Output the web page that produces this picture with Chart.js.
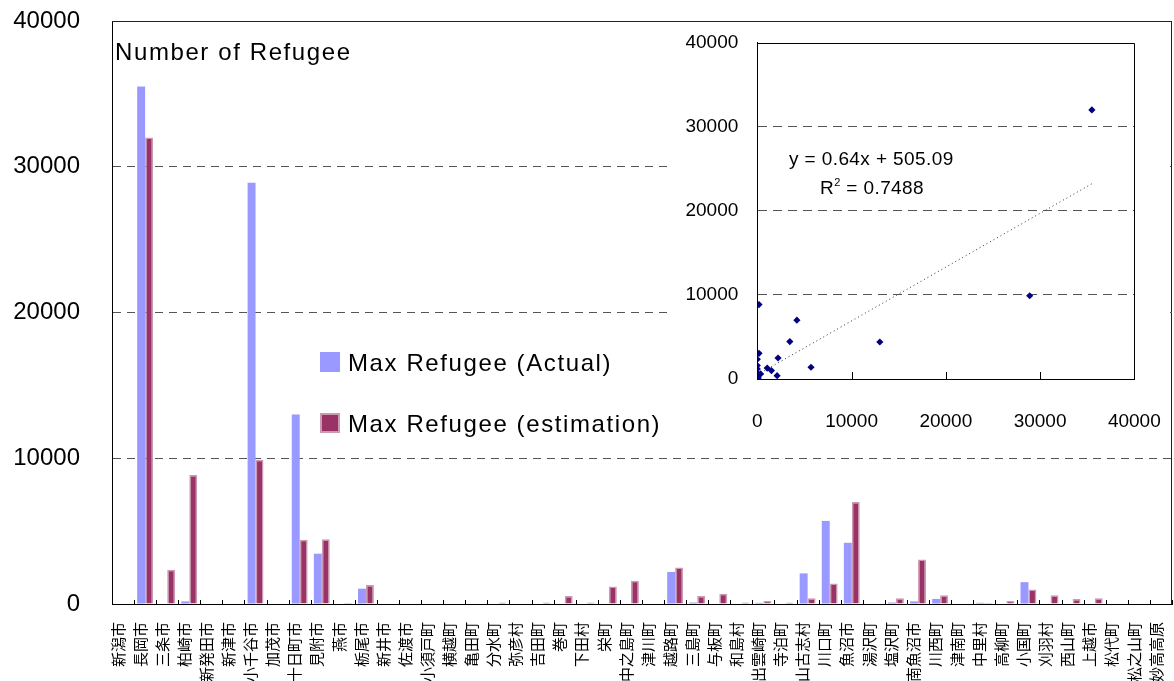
<!DOCTYPE html>
<html>
<head>
<meta charset="utf-8">
<script src="https://cdn.jsdelivr.net/npm/chart.js@4/dist/chart.umd.min.js"></script>
<style>
  html, body { margin: 0; padding: 0; background: #fff; }
  #wrap { position: relative; width: 1174px; height: 681px; overflow: hidden; }
  #main { position: absolute; left: 0; top: 0; }
  #insetBox { position: absolute; left: 673px; top: 22px; width: 497px; height: 410px; background: #fff; }
  #inset { position: absolute; left: 0; top: 0; }
  .txt { position: absolute; font-family: "Liberation Sans", Arial, sans-serif; color: #000; white-space: nowrap; }
  .big { font-size: 24px; line-height: 24px; letter-spacing: 1.6px; }
  .eq { font-size: 19px; line-height: 19px; letter-spacing: 0.4px; }
  .eq sup { font-size: 11px; vertical-align: 0; position: relative; top: -8px; }
  .sw { position: absolute; width: 20px; height: 20px; box-sizing: border-box; }
</style>
</head>
<body>
<div id="wrap">
  <canvas id="main" width="1174" height="681"></canvas>
  <div class="txt big" style="left:115px; top:40px;">Number of Refugee</div>
  <div class="sw" style="left:320px; top:352px; background:#9999FF;"></div>
  <div class="txt big" style="left:348px; top:351px;">Max Refugee (Actual)</div>
  <div class="sw" style="left:320px; top:413px; background:#993366; border:2px solid #CC99B2;"></div>
  <div class="txt big" style="left:348px; top:412px;">Max Refugee (estimation)</div>
  <div id="insetBox">
    <canvas id="inset" width="497" height="410"></canvas>
    <div class="txt eq" style="left:116px; top:127px;">y = 0.64x + 505.09</div>
    <div class="txt eq" style="left:147px; top:156px;">R<sup>2</sup> = 0.7488</div>
  </div>
</div>
<script>
const categories = ["新潟市","長岡市","三条市","柏崎市","新発田市","新津市","小千谷市","加茂市","十日町市","見附市",
  "燕市","栃尾市","新井市","佐渡市","小須戸町","横越町","亀田町","分水町","弥彦村","吉田町",
  "巻町","下田村","栄町","中之島町","津川町","越路町","三島町","与板町","和島村","出雲崎町",
  "寺泊町","山古志村","川口町","魚沼市","湯沢町","塩沢町","南魚沼市","川西町","津南町","中里村",
  "高柳町","小国町","刈羽村","西山町","上越市","松代町","松之山町","妙高高原"];
const actual = [0,35500,0,180,0,0,28900,0,13000,3450,
  0,1050,0,0,0,0,0,0,0,0,
  0,0,0,0,0,2200,100,0,0,80,
  0,2100,5700,4200,0,100,180,350,0,80,
  0,1500,0,0,0,0,0,0];
const estimation = [0,32000,2350,8850,0,0,9900,0,4400,4450,
  80,1300,0,0,0,0,0,100,0,100,
  550,100,1200,1600,0,2500,550,700,100,200,
  100,400,1400,7000,0,400,3050,600,0,80,
  200,1000,600,350,400,0,0,0];
const yTicks = [0, 10000, 20000, 30000, 40000];
const trendSlope = 0.64;
const trendIntercept = 505.09;

const LATIN = '"Liberation Sans", Arial, sans-serif';
const CJK = '"Noto Sans CJK JP", sans-serif';
const plain = v => String(v);
const noPad = s => { s.paddingTop = 0; s.paddingBottom = 0; s.paddingLeft = 0; s.paddingRight = 0; };

const mainDecor = {
  id: 'mainDecor',
  afterDraw(chart) {
    const {ctx, chartArea: a} = chart;
    const xs = chart.scales.x;
    const n = categories.length;
    const step = xs.getPixelForTick(1) - xs.getPixelForTick(0);
    ctx.save();
    ctx.strokeStyle = '#000';
    ctx.lineWidth = 1;
    ctx.beginPath();
    for (let i = 0; i <= n; i++) {
      const x = Math.round(xs.getPixelForTick(0) - step / 2 + i * step) + 0.5;
      ctx.moveTo(x, a.bottom);
      ctx.lineTo(x, a.bottom - 4);
    }
    ctx.stroke();
    ctx.strokeStyle = '#222';
    ctx.beginPath();
    ctx.moveTo(a.left, Math.round(a.top) + 0.5);
    ctx.lineTo(a.right, Math.round(a.top) + 0.5);
    ctx.moveTo(Math.round(a.right) - 0.5, a.top);
    ctx.lineTo(Math.round(a.right) - 0.5, a.bottom);
    ctx.stroke();
    ctx.restore();
  }
};

new Chart(document.getElementById('main'), {
  type: 'bar',
  data: {
    labels: categories,
    datasets: [
      { label: 'Max Refugee (Actual)', data: actual, backgroundColor: '#9999FF', borderWidth: 0,
        categoryPercentage: 0.72, barPercentage: 1.0 },
      { label: 'Max Refugee (estimation)', data: estimation, backgroundColor: '#993366',
        borderColor: '#CC99B2', borderWidth: 1.5, borderSkipped: 'bottom',
        categoryPercentage: 0.72, barPercentage: 1.0 }
    ]
  },
  options: {
    responsive: false,
    animation: false,
    layout: { padding: { top: 21, right: 2, left: 0, bottom: 0 } },
    plugins: { legend: { display: false }, tooltip: { enabled: false } },
    scales: {
      x: {
        grid: { display: false },
        border: { color: '#000', width: 1 },
        ticks: { autoSkip: false, maxRotation: 90, minRotation: 90, color: '#000', padding: 10,
          labelOffset: -5, font: { size: 15, family: CJK } },
        afterFit(s) { s.height = 77; noPad(s); }
      },
      y: {
        min: 0, max: 40000,
        afterBuildTicks(s) { s.ticks = yTicks.map(v => ({ value: v })); },
        ticks: { color: '#000', padding: 32, font: { size: 24, family: LATIN }, callback: plain },
        grid: { color: '#555', lineWidth: 1, drawTicks: false },
        border: { color: '#000', width: 1, dash: [8, 6] },
        afterFit(s) { s.width = 112; noPad(s); }
      }
    }
  },
  plugins: [mainDecor]
});

const scatterPoints = actual.map((a, i) => ({ x: a, y: estimation[i] }));
const xMin = Math.min(...actual), xMax = Math.max(...actual);
const trendPoints = [xMin, xMax].map(x => ({ x: x, y: trendSlope * x + trendIntercept }));

const insetDecor = {
  id: 'insetDecor',
  afterDraw(chart) {
    const {ctx, chartArea: a} = chart;
    const xs = chart.scales.x;
    ctx.save();
    ctx.strokeStyle = '#000';
    ctx.lineWidth = 1;
    ctx.beginPath();
    yTicks.slice(1, -1).forEach(v => {
      const x = Math.round(xs.getPixelForValue(v)) + 0.5;
      ctx.moveTo(x, a.bottom);
      ctx.lineTo(x, a.bottom - 7);
    });
    ctx.stroke();
    ctx.beginPath();
    ctx.rect(Math.round(a.left) + 0.5, Math.round(a.top) + 0.5,
             Math.round(a.right) - Math.round(a.left), Math.round(a.bottom) - Math.round(a.top));
    ctx.stroke();
    ctx.restore();
  }
};

new Chart(document.getElementById('inset'), {
  type: 'scatter',
  data: {
    datasets: [
      { data: scatterPoints, pointStyle: 'rectRot', pointRadius: 3.6, backgroundColor: '#000080',
        borderColor: '#000080', borderWidth: 0, order: 1 },
      { type: 'line', data: trendPoints, borderColor: '#333', borderWidth: 1, borderDash: [1, 3],
        pointRadius: 0, fill: false, order: 2 }
    ]
  },
  options: {
    responsive: false,
    animation: false,
    layout: { padding: { top: 20.7, right: 35.7, left: 0, bottom: 0 } },
    plugins: { legend: { display: false }, tooltip: { enabled: false } },
    scales: {
      x: {
        type: 'linear', min: 0, max: 40000,
        afterBuildTicks(s) { s.ticks = yTicks.map(v => ({ value: v })); },
        grid: { display: false },
        border: { color: '#000', width: 1 },
        ticks: { color: '#000', padding: 23, maxRotation: 0, font: { size: 19, family: LATIN }, callback: plain },
        afterFit(s) { s.height = 53; noPad(s); }
      },
      y: {
        type: 'linear', min: 0, max: 40000,
        afterBuildTicks(s) { s.ticks = yTicks.map(v => ({ value: v })); },
        grid: { color: ctx => (ctx.tick && (ctx.tick.value === 0 || ctx.tick.value === 40000)) ? 'rgba(0,0,0,0)' : '#555',
          lineWidth: 1, drawTicks: false },
        border: { color: '#000', width: 1, dash: [9, 6] },
        ticks: { color: '#000', padding: 19, font: { size: 19, family: LATIN }, callback: plain },
        afterFit(s) { s.width = 84.3; noPad(s); }
      }
    }
  },
  plugins: [insetDecor]
});
</script>
</body>
</html>
